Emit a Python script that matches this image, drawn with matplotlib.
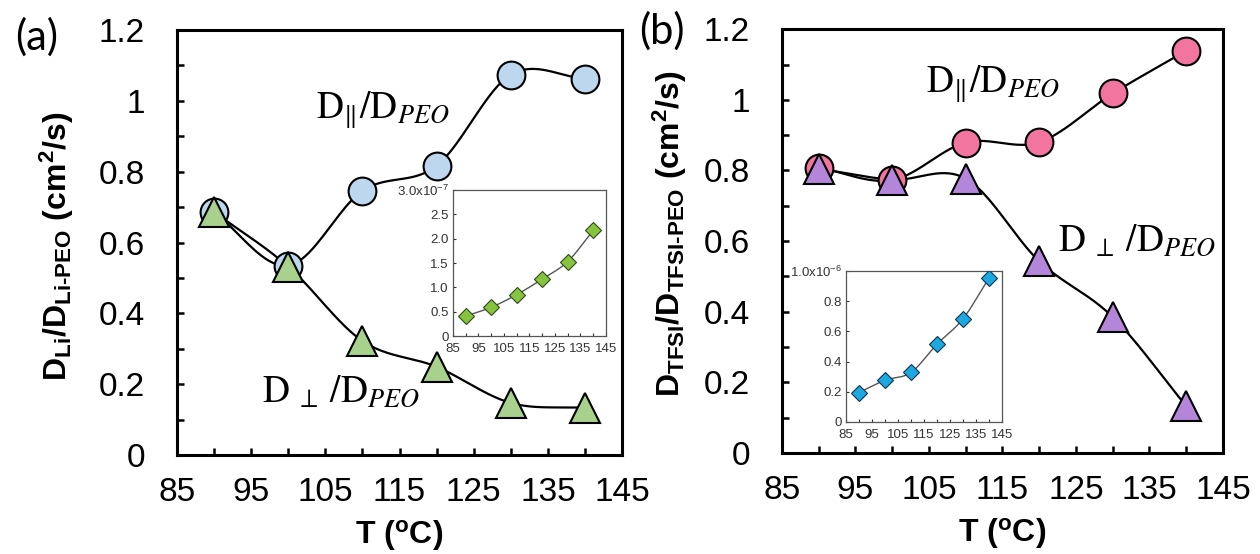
import numpy as np
import matplotlib
matplotlib.use("Agg")
import matplotlib.pyplot as plt
from matplotlib import font_manager
from matplotlib.ticker import FixedLocator, FixedFormatter

# ---------------- data ----------------
temps = [90, 100, 110, 120, 130, 140]
li_par = [0.685, 0.535, 0.746, 0.817, 1.074, 1.063]
li_perp = [0.686, 0.532, 0.322, 0.249, 0.147, 0.133]
tfsi_par = [0.808, 0.773, 0.879, 0.880, 1.018, 1.139]
tfsi_perp = [0.805, 0.774, 0.777, 0.543, 0.385, 0.133]
li_inset = [0.41, 0.59, 0.85, 1.17, 1.53, 2.17]          # x 1e-7
tfsi_inset = [0.195, 0.276, 0.328, 0.515, 0.683, 0.953]  # x 1e-6

main_xticks = [85, 95, 105, 115, 125, 135, 145]
main_xminor = [90, 100, 110, 120, 130, 140]
main_yticks = [0, 0.2, 0.4, 0.6, 0.8, 1.0, 1.2]
main_ylabels = ["0", "0.2", "0.4", "0.6", "0.8", "1", "1.2"]
main_yminor = [0.1, 0.3, 0.5, 0.7, 0.9, 1.1]
inset_xticks = [85, 95, 105, 115, 125, 135, 145]
inset_a_yticks = [0, 0.5, 1.0, 1.5, 2.0, 2.5, 3.0]
inset_a_ylabels = ["0", "0.5", "1.0", "1.5", "2.0", "2.5", "3.0x10$^{\\mathdefault{-7}}$"]
inset_b_yticks = [0, 0.2, 0.4, 0.6, 0.8, 1.0]
inset_b_ylabels = ["0", "0.2", "0.4", "0.6", "0.8", "1.0x10$^{\\mathdefault{-6}}$"]

# ---------------- fonts ----------------
names = {f.name for f in font_manager.fontManager.ttflist}
narrow = "Liberation Sans Narrow" if "Liberation Sans Narrow" in names else "Liberation Sans"
plt.rcParams["font.family"] = ["Liberation Sans", "DejaVu Sans"]
plt.rcParams["mathtext.fontset"] = "custom"
plt.rcParams["mathtext.rm"] = "Liberation Sans:bold"
plt.rcParams["mathtext.bf"] = "Liberation Sans:bold"
plt.rcParams["mathtext.it"] = "Liberation Sans:italic"


def smooth(x, y, n=40):
    x = np.asarray(x, float)
    y = np.asarray(y, float)
    xs, ys = [], []
    k = len(x)
    for i in range(k - 1):
        p0 = i - 1 if i > 0 else i
        p3 = i + 2 if i + 2 < k else i + 1
        m1 = (y[i + 1] - y[p0]) / (x[i + 1] - x[p0])
        m2 = (y[p3] - y[i]) / (x[p3] - x[i])
        h = x[i + 1] - x[i]
        t = np.linspace(0, 1, n)
        h00 = 2 * t**3 - 3 * t**2 + 1
        h10 = t**3 - 2 * t**2 + t
        h01 = -2 * t**3 + 3 * t**2
        h11 = t**3 - t**2
        xs.append(x[i] + t * h)
        ys.append(h00 * y[i] + h10 * h * m1 + h01 * y[i + 1] + h11 * h * m2)
    return np.concatenate(xs), np.concatenate(ys)


fig = plt.figure(figsize=(12.6, 5.54), dpi=100)
fig.patch.set_facecolor("white")


def main_axes(rect, par, perp, c_par, c_perp):
    ax = fig.add_axes(rect)
    sx, sy = smooth(temps, par)
    ax.plot(sx, sy, color="black", lw=1.6, zorder=2)
    sx, sy = smooth(temps, perp)
    ax.plot(sx, sy, color="black", lw=1.6, zorder=2)
    ax.plot(temps, par, linestyle="none", marker="o", ms=20, mfc=c_par,
            mec="black", mew=1.5, zorder=3)
    ax.plot(temps, perp, linestyle="none", marker="^", ms=22, mfc=c_perp,
            mec="black", mew=1.5, zorder=4)
    ax.set_xlim(85, 145)
    ax.set_ylim(0, 1.2)
    ax.xaxis.set_major_locator(FixedLocator(main_xticks))
    ax.xaxis.set_minor_locator(FixedLocator(main_xminor))
    ax.yaxis.set_major_locator(FixedLocator(main_yticks))
    ax.yaxis.set_major_formatter(FixedFormatter(main_ylabels))
    ax.yaxis.set_minor_locator(FixedLocator(main_yminor))
    ax.tick_params(which="both", direction="in", length=5, width=1.8,
                   top=False, right=False)
    ax.tick_params(axis="x", which="major", pad=16)
    ax.tick_params(axis="y", which="major", pad=23)
    for lab in ax.get_xticklabels() + ax.get_yticklabels():
        lab.set_fontfamily(narrow)
        lab.set_fontsize(24)
    for s in ax.spines.values():
        s.set_linewidth(2.2)
    ax.set_xlabel("T ($^{\\mathbf{o}}$C)", fontsize=23, fontweight="bold",
                  family=narrow)
    ax.xaxis.set_label_coords(0.5, -0.148)
    ax.xaxis.label.set_va("top")
    return ax


def inset_axes(rect, vals, ylim, yticks, ylabels, color, edge):
    ax = fig.add_axes(rect)
    ax.set_facecolor("white")
    sx, sy = smooth(temps, vals)
    ax.plot(sx, sy, color="#555555", lw=1.0, zorder=2)
    ax.plot(temps, vals, linestyle="none", marker="D", ms=8, mfc=color,
            mec=edge, mew=0.8, zorder=3)
    ax.set_xlim(85, 145)
    ax.set_ylim(*ylim)
    ax.xaxis.set_major_locator(FixedLocator(inset_xticks))
    ax.xaxis.set_minor_locator(FixedLocator(main_xminor))
    ax.yaxis.set_major_locator(FixedLocator(yticks))
    ax.yaxis.set_major_formatter(FixedFormatter(ylabels))
    ax.tick_params(which="both", direction="in", length=2.5, width=0.8,
                   color="#333333", labelcolor="#333333", top=False, right=False)
    ax.tick_params(axis="x", which="major", pad=5)
    ax.tick_params(axis="y", which="major", pad=3)
    for lab in ax.get_xticklabels() + ax.get_yticklabels():
        lab.set_fontfamily(narrow)
        lab.set_fontsize(9.5)
    for s in ax.spines.values():
        s.set_linewidth(0.9)
        s.set_color("#555555")
    return ax


ax_a = main_axes([0.1405, 0.1787, 0.3532, 0.767], li_par, li_perp, "#BDD7EE", "#A9D18E")
ax_b = main_axes([0.6206, 0.1823, 0.3500, 0.765], tfsi_par, tfsi_perp, "#F1759E", "#B386DA")

inset_axes([0.3595, 0.3935, 0.1214, 0.2635], li_inset, (0, 3.0),
           inset_a_yticks, inset_a_ylabels, "#86C440", "#2f4a18")
inset_axes([0.6714, 0.2383, 0.1238, 0.2726], tfsi_inset, (0, 1.0),
           inset_b_yticks, inset_b_ylabels, "#1EA8E0", "#0b3550")

# annotations
ann_kw = dict(fontsize=27, math_fontfamily="stix", ha="center", va="center")
ax_a.text(0.462, 0.812, "$\\mathrm{D}_{\\Vert}/\\mathrm{D}_{PEO}$",
          transform=ax_a.transAxes, **ann_kw)
ax_a.text(0.368, 0.148, "$\\mathrm{D}_{\\ \\perp\\ }/\\mathrm{D}_{PEO}$",
          transform=ax_a.transAxes, **ann_kw)
ax_b.text(0.478, 0.872, "$\\mathrm{D}_{\\Vert}/\\mathrm{D}_{PEO}$",
          transform=ax_b.transAxes, **ann_kw)
ax_b.text(0.806, 0.500, "$\\mathrm{D}_{\\ \\perp\\ }/\\mathrm{D}_{PEO}$",
          transform=ax_b.transAxes, **ann_kw)

# y labels
fig.text(0.045, 0.556,
         "D$_{\\mathbf{Li}}$/D$_{\\mathbf{Li}\\text{-}\\mathbf{PEO}}$ (cm$^{\\mathbf{2}}$/s)",
         rotation=90, ha="center", va="center", fontsize=23, fontweight="bold")
fig.text(0.532, 0.578,
         "D$_{\\mathbf{TFSI}}$/D$_{\\mathbf{TFSI}\\text{-}\\mathbf{PEO}}$ (cm$^{\\mathbf{2}}$/s)",
         rotation=90, ha="center", va="center", fontsize=23, fontweight="bold")

# panel letters
fig.text(0.029, 0.933, "(a)", fontsize=30, family=["Lato", "DejaVu Sans"],
         ha="center", va="center")
fig.text(0.525, 0.944, "(b)", fontsize=30, family=["Lato", "DejaVu Sans"],
         ha="center", va="center")

fig.savefig("out.png", dpi=100, facecolor="white")
